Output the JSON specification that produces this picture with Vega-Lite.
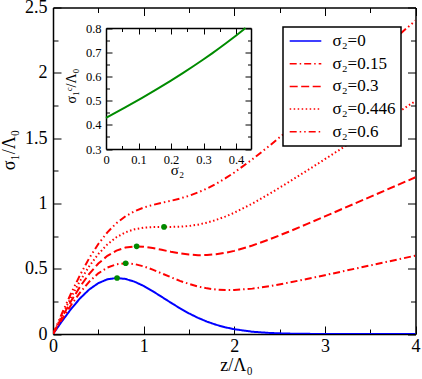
{
  "$schema": "https://vega.github.io/schema/vega-lite/v6.json",
  "width": 362.5,
  "height": 326.5,
  "autosize": {"type": "none"},
  "padding": {"left": 53, "top": 7.5, "right": 6.5, "bottom": 45},
  "config": {
    "view": {"stroke": null},
    "font": "Liberation Serif, Times New Roman, serif",
    "axis": {
      "domainColor": "black", "domainWidth": 1.5, "tickColor": "black", "tickWidth": 1,
      "labelColor": "black", "titleColor": "black", "labelFont": "Liberation Serif, Times New Roman, serif",
      "titleFont": "Liberation Serif, Times New Roman, serif", "titleFontWeight": "normal", "grid": false,
      "labelFlush": false, "labelOverlap": false, "labelBound": false
    },
    "legend": {"labelFont": "Liberation Serif, Times New Roman, serif"}
  },
  "datasets": {
    "curves": [
      {"z":0,"v":0,"s":"σ₂=0"},{"z":0.1,"v":0.099,"s":"σ₂=0"},{"z":0.2,"v":0.1922,"s":"σ₂=0"},{"z":0.3,"v":0.2742,"s":"σ₂=0"},{"z":0.4,"v":0.3409,"s":"σ₂=0"},{"z":0.5,"v":0.3894,"s":"σ₂=0"},{"z":0.6,"v":0.4186,"s":"σ₂=0"},{"z":0.7,"v":0.4288,"s":"σ₂=0"},{"z":0.8,"v":0.4218,"s":"σ₂=0"},{"z":0.9,"v":0.4004,"s":"σ₂=0"},{"z":1.0,"v":0.3679,"s":"σ₂=0"},{"z":1.1,"v":0.328,"s":"σ₂=0"},{"z":1.2,"v":0.2843,"s":"σ₂=0"},{"z":1.3,"v":0.2399,"s":"σ₂=0"},{"z":1.4,"v":0.1972,"s":"σ₂=0"},{"z":1.5,"v":0.1581,"s":"σ₂=0"},{"z":1.6,"v":0.1237,"s":"σ₂=0"},{"z":1.7,"v":0.0945,"s":"σ₂=0"},{"z":1.8,"v":0.0705,"s":"σ₂=0"},{"z":1.9,"v":0.0514,"s":"σ₂=0"},{"z":2.0,"v":0.0366,"s":"σ₂=0"},{"z":2.2,"v":0.0174,"s":"σ₂=0"},{"z":2.4,"v":0.0076,"s":"σ₂=0"},{"z":2.6,"v":0.003,"s":"σ₂=0"},{"z":2.8,"v":0.0011,"s":"σ₂=0"},{"z":3.0,"v":0.0004,"s":"σ₂=0"},{"z":3.5,"v":0,"s":"σ₂=0"},{"z":4.0,"v":0,"s":"σ₂=0"},
      {"z":0,"v":0,"s":"σ₂=0.15"},{"z":0.1,"v":0.114,"s":"σ₂=0.15"},{"z":0.2,"v":0.2222,"s":"σ₂=0.15"},{"z":0.3,"v":0.3192,"s":"σ₂=0.15"},{"z":0.4,"v":0.4009,"s":"σ₂=0.15"},{"z":0.5,"v":0.4644,"s":"σ₂=0.15"},{"z":0.6,"v":0.5086,"s":"σ₂=0.15"},{"z":0.7,"v":0.5338,"s":"σ₂=0.15"},{"z":0.8,"v":0.5418,"s":"σ₂=0.15"},{"z":0.9,"v":0.5354,"s":"σ₂=0.15"},{"z":1.0,"v":0.5179,"s":"σ₂=0.15"},{"z":1.1,"v":0.493,"s":"σ₂=0.15"},{"z":1.2,"v":0.4643,"s":"σ₂=0.15"},{"z":1.3,"v":0.4349,"s":"σ₂=0.15"},{"z":1.4,"v":0.4072,"s":"σ₂=0.15"},{"z":1.5,"v":0.3831,"s":"σ₂=0.15"},{"z":1.6,"v":0.3637,"s":"σ₂=0.15"},{"z":1.7,"v":0.3495,"s":"σ₂=0.15"},{"z":1.8,"v":0.3405,"s":"σ₂=0.15"},{"z":1.9,"v":0.3364,"s":"σ₂=0.15"},{"z":2.0,"v":0.3366,"s":"σ₂=0.15"},{"z":2.2,"v":0.3474,"s":"σ₂=0.15"},{"z":2.4,"v":0.3676,"s":"σ₂=0.15"},{"z":2.6,"v":0.393,"s":"σ₂=0.15"},{"z":2.8,"v":0.4211,"s":"σ₂=0.15"},{"z":3.0,"v":0.4504,"s":"σ₂=0.15"},{"z":3.5,"v":0.525,"s":"σ₂=0.15"},{"z":4.0,"v":0.6,"s":"σ₂=0.15"},
      {"z":0,"v":0,"s":"σ₂=0.3"},{"z":0.1,"v":0.129,"s":"σ₂=0.3"},{"z":0.2,"v":0.2522,"s":"σ₂=0.3"},{"z":0.3,"v":0.3642,"s":"σ₂=0.3"},{"z":0.4,"v":0.4609,"s":"σ₂=0.3"},{"z":0.5,"v":0.5394,"s":"σ₂=0.3"},{"z":0.6,"v":0.5986,"s":"σ₂=0.3"},{"z":0.7,"v":0.6388,"s":"σ₂=0.3"},{"z":0.8,"v":0.6618,"s":"σ₂=0.3"},{"z":0.9,"v":0.6704,"s":"σ₂=0.3"},{"z":1.0,"v":0.6679,"s":"σ₂=0.3"},{"z":1.1,"v":0.658,"s":"σ₂=0.3"},{"z":1.2,"v":0.6443,"s":"σ₂=0.3"},{"z":1.3,"v":0.6299,"s":"σ₂=0.3"},{"z":1.4,"v":0.6172,"s":"σ₂=0.3"},{"z":1.5,"v":0.6081,"s":"σ₂=0.3"},{"z":1.6,"v":0.6037,"s":"σ₂=0.3"},{"z":1.7,"v":0.6045,"s":"σ₂=0.3"},{"z":1.8,"v":0.6105,"s":"σ₂=0.3"},{"z":1.9,"v":0.6214,"s":"σ₂=0.3"},{"z":2.0,"v":0.6366,"s":"σ₂=0.3"},{"z":2.2,"v":0.6774,"s":"σ₂=0.3"},{"z":2.4,"v":0.7276,"s":"σ₂=0.3"},{"z":2.6,"v":0.783,"s":"σ₂=0.3"},{"z":2.8,"v":0.8411,"s":"σ₂=0.3"},{"z":3.0,"v":0.9004,"s":"σ₂=0.3"},{"z":3.5,"v":1.05,"s":"σ₂=0.3"},{"z":4.0,"v":1.2,"s":"σ₂=0.3"},
      {"z":0,"v":0,"s":"σ₂=0.446"},{"z":0.1,"v":0.1436,"s":"σ₂=0.446"},{"z":0.2,"v":0.2814,"s":"σ₂=0.446"},{"z":0.3,"v":0.408,"s":"σ₂=0.446"},{"z":0.4,"v":0.5193,"s":"σ₂=0.446"},{"z":0.5,"v":0.6124,"s":"σ₂=0.446"},{"z":0.6,"v":0.6862,"s":"σ₂=0.446"},{"z":0.7,"v":0.741,"s":"σ₂=0.446"},{"z":0.8,"v":0.7786,"s":"σ₂=0.446"},{"z":0.9,"v":0.8018,"s":"σ₂=0.446"},{"z":1.0,"v":0.8139,"s":"σ₂=0.446"},{"z":1.1,"v":0.8186,"s":"σ₂=0.446"},{"z":1.2,"v":0.8195,"s":"σ₂=0.446"},{"z":1.3,"v":0.8197,"s":"σ₂=0.446"},{"z":1.4,"v":0.8216,"s":"σ₂=0.446"},{"z":1.5,"v":0.8271,"s":"σ₂=0.446"},{"z":1.6,"v":0.8373,"s":"σ₂=0.446"},{"z":1.7,"v":0.8527,"s":"σ₂=0.446"},{"z":1.8,"v":0.8733,"s":"σ₂=0.446"},{"z":1.9,"v":0.8988,"s":"σ₂=0.446"},{"z":2.0,"v":0.9286,"s":"σ₂=0.446"},{"z":2.2,"v":0.9986,"s":"σ₂=0.446"},{"z":2.4,"v":1.078,"s":"σ₂=0.446"},{"z":2.6,"v":1.1626,"s":"σ₂=0.446"},{"z":2.8,"v":1.2499,"s":"σ₂=0.446"},{"z":3.0,"v":1.3384,"s":"σ₂=0.446"},{"z":3.5,"v":1.561,"s":"σ₂=0.446"},{"z":4.0,"v":1.784,"s":"σ₂=0.446"},
      {"z":0,"v":0,"s":"σ₂=0.6"},{"z":0.1,"v":0.159,"s":"σ₂=0.6"},{"z":0.2,"v":0.3122,"s":"σ₂=0.6"},{"z":0.3,"v":0.4542,"s":"σ₂=0.6"},{"z":0.4,"v":0.5809,"s":"σ₂=0.6"},{"z":0.5,"v":0.6894,"s":"σ₂=0.6"},{"z":0.6,"v":0.7786,"s":"σ₂=0.6"},{"z":0.7,"v":0.8488,"s":"σ₂=0.6"},{"z":0.8,"v":0.9018,"s":"σ₂=0.6"},{"z":0.9,"v":0.9404,"s":"σ₂=0.6"},{"z":1.0,"v":0.9679,"s":"σ₂=0.6"},{"z":1.1,"v":0.988,"s":"σ₂=0.6"},{"z":1.2,"v":1.0043,"s":"σ₂=0.6"},{"z":1.3,"v":1.0199,"s":"σ₂=0.6"},{"z":1.4,"v":1.0372,"s":"σ₂=0.6"},{"z":1.5,"v":1.0581,"s":"σ₂=0.6"},{"z":1.6,"v":1.0837,"s":"σ₂=0.6"},{"z":1.7,"v":1.1145,"s":"σ₂=0.6"},{"z":1.8,"v":1.1505,"s":"σ₂=0.6"},{"z":1.9,"v":1.1914,"s":"σ₂=0.6"},{"z":2.0,"v":1.2366,"s":"σ₂=0.6"},{"z":2.2,"v":1.3374,"s":"σ₂=0.6"},{"z":2.4,"v":1.4476,"s":"σ₂=0.6"},{"z":2.6,"v":1.563,"s":"σ₂=0.6"},{"z":2.8,"v":1.6811,"s":"σ₂=0.6"},{"z":3.0,"v":1.8004,"s":"σ₂=0.6"},{"z":3.5,"v":2.1,"s":"σ₂=0.6"},{"z":4.0,"v":2.4,"s":"σ₂=0.6"}
    ],
    "peaks": [
      {"z":0.707,"v":0.429},{"z":0.802,"v":0.542},{"z":0.923,"v":0.671},{"z":1.225,"v":0.82}
    ],
    "inset": [
      {"s2":0,"c":0.4289},{"s2":0.0577,"c":0.4707},{"s2":0.1098,"c":0.5101},{"s2":0.1566,"c":0.5472},{"s2":0.1986,"c":0.5817},{"s2":0.2362,"c":0.6136},{"s2":0.2696,"c":0.643},{"s2":0.2992,"c":0.6699},{"s2":0.3253,"c":0.6943},{"s2":0.3481,"c":0.7162},{"s2":0.3679,"c":0.7358},{"s2":0.3994,"c":0.7681},{"s2":0.4217,"c":0.7918},{"s2":0.429,"c":0.8}
    ]
  },
  "layer": [
    {
      "layer": [
        {
          "data": {"name": "curves"},
          "mark": {"type": "line", "strokeWidth": 2, "clip": true},
          "encoding": {
            "x": {"field": "z", "type": "quantitative", "scale": {"domain": [0, 4], "nice": false, "zero": false},
              "axis": {"orient": "bottom", "values": [0,0.5,1,1.5,2,2.5,3,3.5,4],
                "labelExpr": "datum.value % 1 === 0 ? format(datum.value, '~g') : ''",
                "tickSize": {"condition": {"test": "datum.value % 1 === 0", "value": -8}, "value": -5},
                "labelPadding": 11, "labelFontSize": 18, "title": "z/Λ₀", "titleFontSize": 18,
                "titleX": 183, "titleY": 36, "titleBaseline": "alphabetic", "titleAlign": "center"}},
            "y": {"field": "v", "type": "quantitative", "scale": {"domain": [0, 2.5], "nice": false, "zero": false},
              "axis": {"orient": "left", "values": [0,0.25,0.5,0.75,1,1.25,1.5,1.75,2,2.25,2.5],
                "labelExpr": "datum.value % 0.5 === 0 ? format(datum.value, '~g') : ''",
                "tickSize": {"condition": {"test": "datum.value % 0.5 === 0", "value": -8}, "value": -5},
                "labelPadding": 14, "labelFontSize": 18, "title": "σ₁/Λ₀", "titleFontSize": 18,
                "titleX": -39, "titleY": 142, "titleBaseline": "alphabetic", "titleAlign": "center", "titleAngle": -90}},
            "color": {"field": "s", "type": "nominal",
              "scale": {"domain": ["σ₂=0","σ₂=0.15","σ₂=0.3","σ₂=0.446","σ₂=0.6"], "range": ["#0000ff","#ff0000","#ff0000","#ff0000","#ff0000"]},
              "legend": {"orient": "none", "legendX": 230, "legendY": 19.5, "title": null, "strokeColor": "black", "fillColor": "white", "padding": 5.5, "labelFontSize": 17, "labelColor": "black", "symbolSize": 1000, "symbolStrokeWidth": 1.5, "symbolType": "stroke", "clipHeight": 17, "rowPadding": 4.7, "labelOffset": 10, "labelLimit": 200,
                "encode": {"legend": {"update": {"strokeWidth": {"value": 1.5}}}}}},
            "strokeDash": {"field": "s", "type": "nominal",
              "scale": {"domain": ["σ₂=0","σ₂=0.15","σ₂=0.3","σ₂=0.446","σ₂=0.6"], "range": [[1,0],[7,3,1.5,3],[8,3.5],[1.5,2.5],[7,3,1.5,3,1.5,3]]},
              "legend": {"orient": "none", "legendX": 230, "legendY": 19.5, "title": null, "strokeColor": "black", "fillColor": "white", "padding": 5.5, "labelFontSize": 17, "labelColor": "black", "symbolSize": 1000, "symbolStrokeWidth": 1.5, "symbolType": "stroke", "clipHeight": 17, "rowPadding": 4.7, "labelOffset": 10, "labelLimit": 200,
                "encode": {"legend": {"update": {"strokeWidth": {"value": 1.5}}}}}}
          }
        },
        {
          "data": {"name": "peaks"},
          "mark": {"type": "circle", "size": 32, "color": "#008b00", "opacity": 1},
          "encoding": {
            "x": {"field": "z", "type": "quantitative", "scale": {"domain": [0, 4], "nice": false, "zero": false}, "axis": null},
            "y": {"field": "v", "type": "quantitative", "scale": {"domain": [0, 2.5], "nice": false, "zero": false}, "axis": null}
          }
        },
        {
          "data": {"name": "peaks"},
          "mark": {"type": "point", "opacity": 0},
          "encoding": {
            "x": {"field": "z", "type": "quantitative", "scale": {"domain": [0, 4], "nice": false, "zero": false},
              "axis": {"orient": "top", "values": [0,0.5,1,1.5,2,2.5,3,3.5,4], "labels": false, "title": null,
                "tickSize": {"condition": {"test": "datum.value % 1 === 0", "value": -8}, "value": -5}}},
            "y": {"field": "v", "type": "quantitative", "scale": {"domain": [0, 2.5], "nice": false, "zero": false},
              "axis": {"orient": "right", "values": [0,0.25,0.5,0.75,1,1.25,1.5,1.75,2,2.25,2.5], "labels": false, "title": null,
                "tickSize": {"condition": {"test": "datum.value % 0.5 === 0", "value": -8}, "value": -5}}}
          }
        }
      ],
      "resolve": {"axis": {"x": "independent", "y": "independent"}}
    },
    {
      "layer": [
        {
          "data": {"name": "inset"},
          "mark": {"type": "line", "strokeWidth": 2, "color": "#008b00"},
          "encoding": {
            "x": {"field": "s2", "type": "quantitative", "scale": {"domain": [0, 0.446], "range": [53, 198], "nice": false, "zero": false},
              "axis": {"orient": "bottom", "offset": -185, "values": [0,0.05,0.1,0.15,0.2,0.25,0.3,0.35,0.4],
                "labelExpr": "round(datum.value*100) % 10 === 0 ? format(datum.value, '~g') : ''",
                "tickSize": {"condition": {"test": "round(datum.value*100) % 10 === 0", "value": -6}, "value": -3.5},
                "labelPadding": 10, "labelFontSize": 12.5, "title": "σ₂", "titleFontSize": 15,
                "titleX": 124, "titleY": 25, "titleBaseline": "alphabetic", "titleAlign": "center"}},
            "y": {"field": "c", "type": "quantitative", "scale": {"domain": [0.3, 0.8], "range": [141.5, 20.5], "nice": false, "zero": false},
              "axis": {"orient": "left", "offset": -53, "values": [0.3,0.35,0.4,0.45,0.5,0.55,0.6,0.65,0.7,0.75,0.8],
                "labelExpr": "round(datum.value*100) % 10 === 0 ? format(datum.value, '.1f') : ''",
                "tickSize": {"condition": {"test": "round(datum.value*100) % 10 === 0", "value": -6}, "value": -3.5},
                "labelPadding": 11, "labelFontSize": 12.5, "title": "σ₁ᶜ/Λ₀", "titleFontSize": 14,
                "titleX": -31, "titleY": 78, "titleBaseline": "alphabetic", "titleAlign": "center", "titleAngle": -90}}
          }
        },
        {
          "data": {"name": "inset"},
          "mark": {"type": "point", "opacity": 0},
          "encoding": {
            "x": {"field": "s2", "type": "quantitative", "scale": {"domain": [0, 0.446], "range": [53, 198], "nice": false, "zero": false},
              "axis": {"orient": "top", "offset": -20.5, "values": [0,0.05,0.1,0.15,0.2,0.25,0.3,0.35,0.4], "labels": false, "title": null,
                "tickSize": {"condition": {"test": "round(datum.value*100) % 10 === 0", "value": -6}, "value": -3.5}}},
            "y": {"field": "c", "type": "quantitative", "scale": {"domain": [0.3, 0.8], "range": [141.5, 20.5], "nice": false, "zero": false},
              "axis": {"orient": "right", "offset": -164.5, "values": [0.3,0.35,0.4,0.45,0.5,0.55,0.6,0.65,0.7,0.75,0.8], "labels": false, "title": null,
                "tickSize": {"condition": {"test": "round(datum.value*100) % 10 === 0", "value": -6}, "value": -3.5}}}
          }
        }
      ],
      "resolve": {"axis": {"x": "independent", "y": "independent"}}
    }
  ],
  "resolve": {"scale": {"x": "independent", "y": "independent"}, "axis": {"x": "independent", "y": "independent"}}
}
